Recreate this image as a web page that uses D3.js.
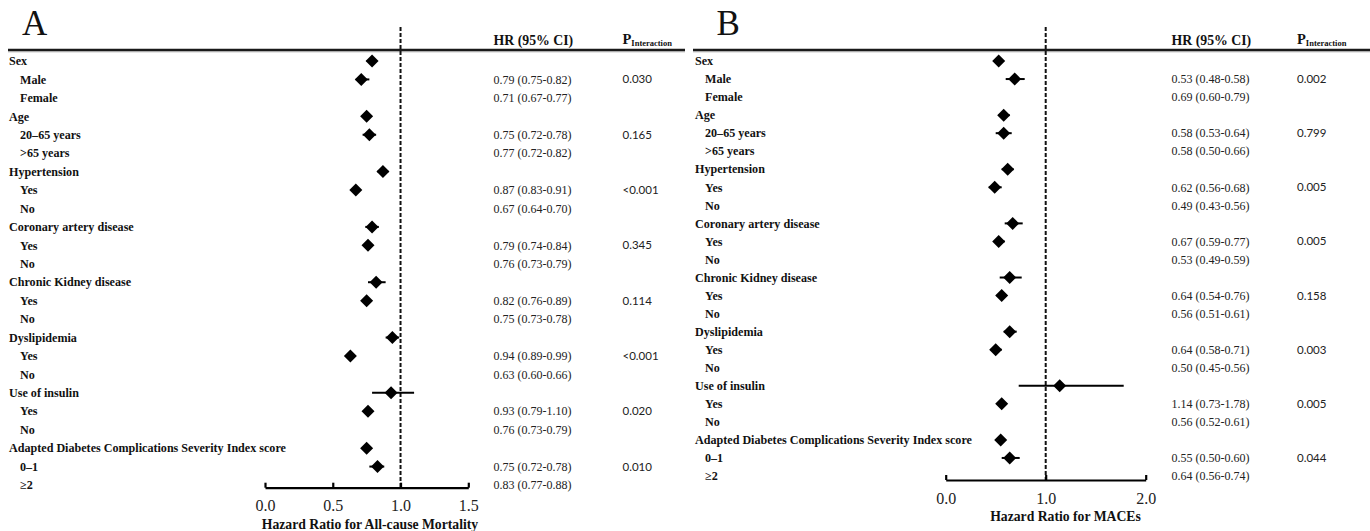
<!DOCTYPE html>
<html><head><meta charset="utf-8">
<script src="https://cdn.jsdelivr.net/npm/d3@7"></script>
<style>body{margin:0;background:#fff}</style>
</head><body><svg id="c" width="1370" height="531"></svg>
<script>
// ---------- data ----------
const rowLabels = ["Sex","Male","Female","Age","20–65 years",">65 years","Hypertension","Yes","No",
  "Coronary artery disease","Yes","No","Chronic Kidney disease","Yes","No","Dyslipidemia","Yes","No",
  "Use of insulin","Yes","No","Adapted Diabetes Complications Severity Index score","0–1","≥2"];
const rowIsHeader = [1,0,0,1,0,0,1,0,0,1,0,0,1,0,0,1,0,0,1,0,0,1,0,0];

const hrA = [0.79,0.71,0.75,0.77,0.87,0.67,0.79,0.76,0.82,0.75,0.94,0.63,0.93,0.76,0.75,0.83];
const loA = [0.75,0.67,0.72,0.72,0.83,0.64,0.74,0.73,0.76,0.73,0.89,0.60,0.79,0.73,0.72,0.77];
const hiA = [0.82,0.77,0.78,0.82,0.91,0.70,0.84,0.79,0.89,0.78,0.99,0.66,1.10,0.79,0.78,0.88];
const pA  = ["0.030","0.165","<0.001","0.345","0.114","<0.001","0.020","0.010"];
const ticksA = [0, 0.5, 1.0, 1.5];

const hrB = [0.53,0.69,0.58,0.58,0.62,0.49,0.67,0.53,0.64,0.56,0.64,0.50,1.14,0.56,0.55,0.64];
const loB = [0.48,0.60,0.53,0.50,0.56,0.43,0.59,0.49,0.54,0.51,0.58,0.45,0.73,0.52,0.50,0.56];
const hiB = [0.58,0.79,0.64,0.66,0.68,0.56,0.77,0.59,0.76,0.61,0.71,0.56,1.78,0.61,0.60,0.74];
const pB  = ["0.002","0.799","0.005","0.005","0.158","0.003","0.005","0.044"];
const ticksB = [0, 1.0, 2.0];

// ---------- drawing ----------
const svg = d3.select("#c");
const SERIF = "'Liberation Serif','Times New Roman',serif";
const SANS = "Lato,'Open Sans',sans-serif";

const panels = [
  {letter:"A", hr:hrA, lo:loA, hi:hiA, p:pA, ticks:ticksA, title:"Hazard Ratio for All-cause Mortality",
   ruleX:[8,685], letterX:22, labX:9, subX:20, xRange:[265,468.3], domain:[0,1.5],
   rowY:[61,485], axisY:487.7, hrX:493.5, pX:622.5, titleX:370, tickBase:511.5, titleBase:528.5},
  {letter:"B", hr:hrB, lo:loB, hi:hiB, p:pB, ticks:ticksB, title:"Hazard Ratio for MACEs",
   ruleX:[693,1370], letterX:716.5, labX:695, subX:705, xRange:[945.7,1145.7], domain:[0,2],
   rowY:[61,476], axisY:480, hrX:1171.5, pX:1297, titleX:1065.5, tickBase:503.5, titleBase:521}
];

panels.forEach(P => {
  const g = svg.append("g");
  const x = d3.scaleLinear().domain(P.domain).range(P.xRange);
  const y = d3.scaleLinear().domain([0, rowLabels.length-1]).range(P.rowY);

  // panel letter
  g.append("text").attr("x", P.letterX).attr("y", 35).attr("font-family", SERIF)
    .attr("font-size", 35).attr("fill", "#111").text(P.letter);

  // headers
  g.append("text").attr("x", P.hrX).attr("y", 44.5).attr("font-family", SERIF)
    .attr("font-weight", "bold").attr("font-size", 13.8).attr("fill", "#111").text("HR (95% CI)");
  const ph = g.append("text").attr("x", P.pX).attr("y", 44).attr("font-family", SERIF)
    .attr("font-weight", "bold").attr("font-size", 14.5).attr("fill", "#111");
  ph.append("tspan").text("P");
  ph.append("tspan").attr("font-size", 8.5).attr("dy", 2).text("Interaction");

  // top rule
  g.append("line").attr("x1", P.ruleX[0]).attr("x2", P.ruleX[1]).attr("y1", 50).attr("y2", 50)
    .attr("stroke", "#1a1a1a").attr("stroke-width", 2.5);
  g.append("line").attr("x1", P.ruleX[0]).attr("x2", P.ruleX[1]).attr("y1", 51.8).attr("y2", 51.8)
    .attr("stroke", "#999").attr("stroke-width", 0.8);

  // row labels
  g.selectAll("text.lab").data(rowLabels).enter().append("text").attr("class", "lab")
    .attr("x", (d,i) => rowIsHeader[i] ? P.labX : P.subX)
    .attr("y", (d,i) => y(i)).attr("dy", "0.35em")
    .attr("font-family", SERIF).attr("font-weight", "bold").attr("font-size", 12.1)
    .attr("fill", "#111").text(d => d);

  // subgroup rows
  const subRows = rowLabels.map((d,i) => i).filter(i => !rowIsHeader[i]);
  const items = subRows.map((r,k) => ({row:r, k:k, hr:P.hr[k], lo:P.lo[k], hi:P.hi[k],
    p: (k % 2 === 0) ? P.p[k/2] : ""}));

  // HR text
  g.selectAll("text.hr").data(items).enter().append("text").attr("class", "hr")
    .attr("x", P.hrX).attr("y", d => y(d.row)).attr("dy", "0.35em")
    .attr("font-family", SERIF).attr("font-size", 12).attr("fill", "#222")
    .text(d => `${d.hr.toFixed(2)} (${d.lo.toFixed(2)}-${d.hi.toFixed(2)})`);
  // P text
  g.selectAll("text.pv").data(items.filter(d => d.p)).enter().append("text").attr("class", "pv")
    .attr("x", P.pX).attr("y", d => y(d.row)).attr("dy", "0.35em")
    .attr("font-family", SANS).attr("font-size", 11.5).attr("fill", "#222").text(d => d.p);

  // reference line at HR = 1
  g.append("line").attr("x1", x(1)).attr("x2", x(1)).attr("y1", 27).attr("y2", P.axisY)
    .attr("stroke", "#111").attr("stroke-width", 2).attr("stroke-dasharray", "4,2");

  // markers (placed one row above the matching text, as in the reference)
  const my = d => y(d.row - 1);
  g.selectAll("line.ci").data(items).enter().append("line").attr("class", "ci")
    .attr("x1", d => x(d.lo)).attr("x2", d => x(d.hi))
    .attr("y1", my).attr("y2", my).attr("stroke", "#000").attr("stroke-width", 2);
  const h = 6.5;
  g.selectAll("path.dm").data(items).enter().append("path").attr("class", "dm")
    .attr("d", d => { const cx = x(d.hr), cy = my(d);
      return `M${cx},${cy-h}L${cx+h},${cy}L${cx},${cy+h}L${cx-h},${cy}Z`; })
    .attr("fill", "#000");

  // axis
  const ax = g.append("g").attr("transform", `translate(0,${P.axisY})`)
    .call(d3.axisBottom(x).tickValues(P.ticks).tickFormat(d3.format(".1f"))
      .tickSizeInner(-5).tickSizeOuter(0));
  ax.select(".domain").attr("stroke", "#000").attr("stroke-width", 2.2);
  ax.selectAll(".tick line").attr("stroke", "#000").attr("stroke-width", 2.2);
  ax.selectAll(".tick text").attr("y", P.tickBase - P.axisY).attr("dy", 0)
    .attr("font-family", SERIF).attr("font-size", 16).attr("fill", "#222");

  g.append("text").attr("x", P.titleX).attr("y", P.titleBase).attr("text-anchor", "middle")
    .attr("font-family", SERIF).attr("font-weight", "bold").attr("font-size", 13.7)
    .attr("fill", "#111").text(P.title);
});
</script></body></html>
